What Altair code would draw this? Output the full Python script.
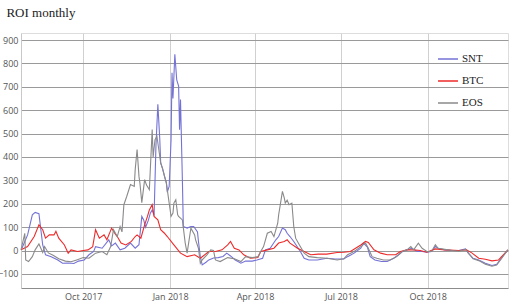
import altair as alt
import pandas as pd

# ---- data ----
snt_dates = ["2017-07-28","2017-08-03","2017-08-08","2017-08-11","2017-08-15","2017-08-19","2017-08-22","2017-08-28",
             "2017-09-04","2017-09-09","2017-09-15","2017-09-21","2017-09-26","2017-10-02","2017-10-07","2017-10-12",
             "2017-10-14","2017-10-21","2017-10-28","2017-10-31","2017-11-04","2017-11-09","2017-11-14","2017-11-20",
             "2017-11-25","2017-11-29","2017-12-02","2017-12-04","2017-12-06","2017-12-09","2017-12-11","2017-12-13",
             "2017-12-15","2017-12-17","2017-12-19","2017-12-21","2017-12-22","2017-12-24","2017-12-26","2017-12-28",
             "2017-12-29","2017-12-31","2018-01-02","2018-01-03","2018-01-04","2018-01-06","2018-01-08","2018-01-10",
             "2018-01-11","2018-01-12","2018-01-14","2018-01-15","2018-01-19","2018-01-23","2018-01-26","2018-01-30",
             "2018-01-31","2018-02-02","2018-02-04","2018-02-08","2018-02-11","2018-02-16","2018-02-21","2018-02-26",
             "2018-03-02","2018-03-06","2018-03-11","2018-03-17","2018-03-22","2018-03-29","2018-04-03","2018-04-09",
             "2018-04-12","2018-04-17","2018-04-23","2018-04-26","2018-04-30","2018-05-03","2018-05-05","2018-05-08",
             "2018-05-12","2018-05-19","2018-05-23","2018-05-28","2018-06-06","2018-06-16","2018-06-25","2018-07-04",
             "2018-07-08","2018-07-15","2018-07-22","2018-07-25","2018-07-29","2018-08-01","2018-08-06","2018-08-13",
             "2018-08-19","2018-08-26","2018-08-31","2018-09-04","2018-09-09","2018-09-14","2018-09-20","2018-09-25",
             "2018-09-30","2018-10-05","2018-10-09","2018-10-12","2018-10-19","2018-10-27","2018-11-03","2018-11-10",
             "2018-11-13","2018-11-18","2018-11-24","2018-12-01","2018-12-08","2018-12-13","2018-12-18","2018-12-22",
             "2018-12-25"]
snt_values = [10, 67, 153, 163, 158, 24, -18, -26,
              -40, -54, -53, -55, -45, -40, -18, -4,
              17, 10, 46, 20, 32, 3, 10, 32,
              10, 25, 146, 131, 100, 130, 160, 174,
              150, 450, 625, 480, 375, 350, 317, 290,
              250, 274, 474, 760, 650, 839, 730, 703,
              517, 646, 300, 103, 96, 103, 103, 80,
              40, -26, -61, -50, -40, -32, -30, -25,
              -11, -23, -40, -54, -45, -45, -40, -33,
              3, 10, 46, 60, 96, 89, 74, 60,
              39, -4, -33, -40, -40, -33, -36, -36,
              -26, -11, 10, 32, 15, -26, -40, -47,
              -47, -33, -18, -4, 3, 10, -4, -4,
              -7, -4, 17, 10, 3, 0, 0, 7,
              -11, -33, -40, -54, -64, -59, -33, -11,
              3]

btc_dates = ["2017-07-27","2017-08-03","2017-08-10","2017-08-15","2017-08-19","2017-08-22","2017-08-26","2017-08-31",
             "2017-09-02","2017-09-05","2017-09-11","2017-09-15","2017-09-18","2017-09-25","2017-10-01","2017-10-06",
             "2017-10-11","2017-10-14","2017-10-18","2017-10-23","2017-10-26","2017-10-31","2017-11-04","2017-11-06",
             "2017-11-10","2017-11-15","2017-11-21","2017-11-25","2017-11-27","2017-12-01","2017-12-05","2017-12-08",
             "2017-12-10","2017-12-13","2017-12-15","2017-12-19","2017-12-22","2017-12-26","2017-12-29","2018-01-05",
             "2018-01-12","2018-01-19","2018-01-27","2018-02-02","2018-02-11","2018-02-18","2018-02-25","2018-03-03",
             "2018-03-06","2018-03-10","2018-03-15","2018-03-20","2018-03-27","2018-04-04","2018-04-07","2018-04-14",
             "2018-04-21","2018-04-26","2018-05-02","2018-05-05","2018-05-08","2018-05-16","2018-05-23","2018-05-30",
             "2018-06-07","2018-06-16","2018-06-27","2018-07-04","2018-07-11","2018-07-22","2018-07-27","2018-07-30",
             "2018-08-05","2018-08-12","2018-08-19","2018-08-28","2018-09-02","2018-09-09","2018-09-16","2018-09-23",
             "2018-09-30","2018-10-09","2018-10-19","2018-11-03","2018-11-11","2018-11-17","2018-11-24","2018-12-01",
             "2018-12-08","2018-12-15","2018-12-20","2018-12-25"]
btc_values = [3, 17, 60, 110, 89, 53, 67, 67,
              82, 53, 24, -11, 3, -4, 0, 3,
              17, 89, 53, 67, 46, 96, 70, 60,
              32, 24, 39, 60, 67, 53, 110, 146,
              174, 196, 146, 131, 89, 74, 60, 24,
              -11, -26, -18, -33, -4, -4, 3, 24,
              39, 10, 3, -18, -33, -30, -4, 3,
              10, 32, 39, 46, 32, 10, -4, -18,
              -15, -15, -8, -7, -4, 24, 39, 35,
              3, -11, -18, -18, -4, 3, 3, 0,
              -7, 7, 3, 0, 3, -11, -33, -37,
              -44, -40, -18, 3]

eos_dates = ["2017-07-27","2017-07-31","2017-08-01","2017-08-04","2017-08-08","2017-08-11","2017-08-15","2017-08-19",
             "2017-08-21","2017-08-25","2017-08-30","2017-09-05","2017-09-12","2017-09-18","2017-09-24","2017-10-01",
             "2017-10-07","2017-10-14","2017-10-21","2017-10-26","2017-10-30","2017-11-02","2017-11-06","2017-11-09",
             "2017-11-11","2017-11-13","2017-11-16","2017-11-20","2017-11-24","2017-11-25","2017-11-27","2017-11-29",
             "2017-11-30","2017-12-02","2017-12-05","2017-12-07","2017-12-10","2017-12-13","2017-12-14","2017-12-16",
             "2017-12-18","2017-12-20","2017-12-22","2017-12-24","2017-12-28","2017-12-31","2018-01-02","2018-01-04",
             "2018-01-05","2018-01-07","2018-01-09","2018-01-10","2018-01-14","2018-01-17","2018-01-19","2018-01-23",
             "2018-01-27","2018-01-28","2018-01-31","2018-02-02","2018-02-04","2018-02-09","2018-02-13","2018-02-16",
             "2018-02-18","2018-02-23","2018-03-03","2018-03-10","2018-03-17","2018-03-22","2018-03-29","2018-04-04",
             "2018-04-07","2018-04-10","2018-04-14","2018-04-18","2018-04-21","2018-04-25","2018-04-26","2018-04-28",
             "2018-04-30","2018-05-02","2018-05-03","2018-05-05","2018-05-07","2018-05-10","2018-05-12","2018-05-14",
             "2018-05-18","2018-05-23","2018-05-28","2018-06-06","2018-06-16","2018-06-27","2018-07-04","2018-07-08",
             "2018-07-15","2018-07-22","2018-07-27","2018-07-30","2018-08-03","2018-08-08","2018-08-15","2018-08-22",
             "2018-08-29","2018-09-04","2018-09-09","2018-09-13","2018-09-16","2018-09-21","2018-09-25","2018-09-30",
             "2018-10-05","2018-10-09","2018-10-12","2018-10-19","2018-10-27","2018-11-03","2018-11-10","2018-11-13",
             "2018-11-18","2018-11-24","2018-12-01","2018-12-08","2018-12-13","2018-12-18","2018-12-22","2018-12-25"]
eos_values = [3, 74, -40, -47, -26, 3, 28, -8,
              17, -10, -20, -35, -45, -48, -40, -30,
              -33, -11, -4, -18, 17, 89, 60, 103,
              80, 196, 231, 282, 274, 346, 432, 317,
              289, 205, 303, 280, 260, 517, 400, 474,
              489, 432, 375, 350, 289, 203, 146, 160,
              203, 217, 153, 146, 131, 32, -11, 96,
              67, 46, 10, -54, -40, -18, 3, 0,
              -40, -47, -30, -35, -47, -26, -30, -26,
              -4, 17, 74, 82, 60, 117, 153, 203,
              253, 224, 203, 215, 196, 203, 103, 53,
              24, -11, -26, -30, -33, -40, -35, -18,
              -4, 17, 32, 10, -26, -33, -40, -40,
              -26, -4, 3, 17, 3, 32, 10, -4,
              -4, 25, 10, 5, 0, -3, 5, -11,
              -35, -43, -58, -67, -62, -35, -12, 3]

series_names = ["SNT", "BTC", "EOS"]
series_colors = ["#7472d6", "#ee2a2a", "#8a8a8a"]
y_ticks = [-100, 0, 100, 200, 300, 400, 500, 600, 700, 800, 900]

frames = []
for name, d, v in [("SNT", snt_dates, snt_values), ("BTC", btc_dates, btc_values), ("EOS", eos_dates, eos_values)]:
    frames.append(pd.DataFrame({"date": d, "roi": v, "coin": name}))
df = pd.concat(frames, ignore_index=True)

x_ticks = [alt.DateTime(year=2017, month=10, date=1, utc=True),
           alt.DateTime(year=2018, month=1, date=1, utc=True),
           alt.DateTime(year=2018, month=4, date=1, utc=True),
           alt.DateTime(year=2018, month=7, date=1, utc=True),
           alt.DateTime(year=2018, month=10, date=1, utc=True)]

chart = alt.Chart(df).mark_line(strokeWidth=1.1, interpolate="linear").encode(
    x=alt.X("date:T",
            scale=alt.Scale(type="utc",
                            domain=[alt.DateTime(year=2017, month=7, date=27, utc=True),
                                    alt.DateTime(year=2018, month=12, date=25, utc=True)]),
            axis=alt.Axis(values=x_ticks, labelExpr="utcFormat(datum.value, '%b %Y')", title=None,
                          grid=True, gridColor="#d0d0d0", gridWidth=1,
                          ticks=False, domain=True, domainColor="#8c8c8c",
                          labelFont="Open Sans", labelFontSize=9, labelColor="#555",
                          labelPadding=4)),
    y=alt.Y("roi:Q",
            scale=alt.Scale(domain=[-160, 930], nice=False, zero=False),
            axis=alt.Axis(values=y_ticks, title=None, grid=True, gridColor="#9a9a9a", gridWidth=1,
                          ticks=False, domain=True, domainColor="#c8c8c8",
                          labelFont="Open Sans", labelFontSize=9, labelColor="#555",
                          labelPadding=3)),
    color=alt.Color("coin:N",
                    scale=alt.Scale(domain=series_names, range=series_colors),
                    sort=series_names,
                    legend=alt.Legend(title=None, orient="none", legendX=416, legendY=15,
                                      symbolType="stroke", symbolSize=400, symbolStrokeWidth=1.5,
                                      labelFont="Liberation Serif", labelFontSize=11, labelColor="#222",
                                      labelOffset=3, rowPadding=6, padding=0)),
    order=alt.Order("date:T"),
).properties(
    width=487, height=255,
    autosize="none",
    padding={"left": 21, "top": 33, "right": 7, "bottom": 20},
    title=alt.TitleParams("ROI monthly", anchor="start", font="Liberation Serif", fontSize=13,
                          fontWeight="normal", color="#222", dx=9, dy=13, offset=13, baseline="bottom"),
).configure_view(stroke=None).configure(background="white")

chart.save("out.html", embed_options={"renderer": "svg", "actions": False})
